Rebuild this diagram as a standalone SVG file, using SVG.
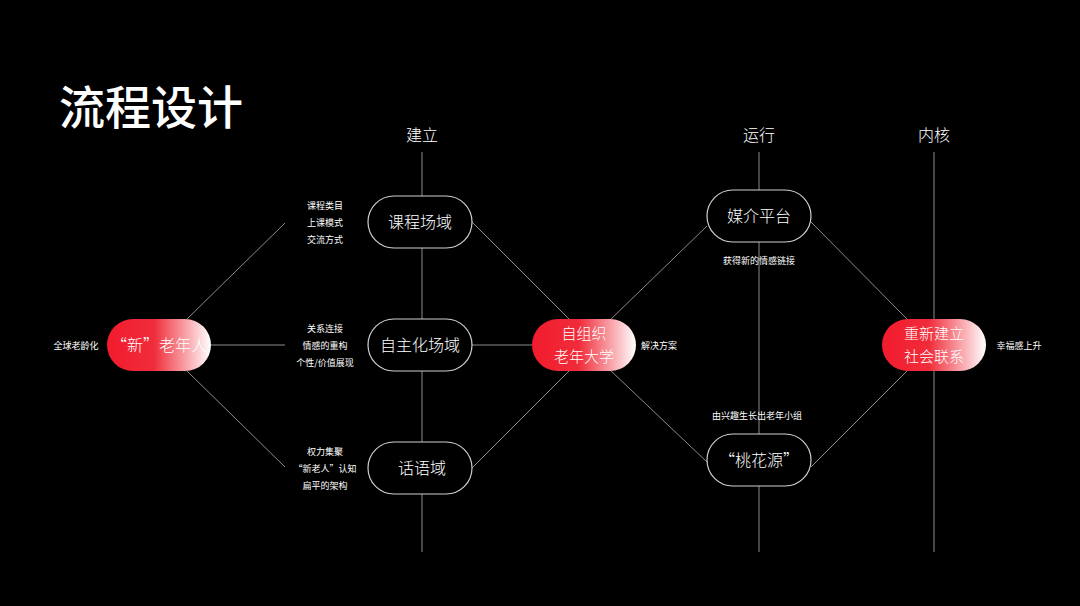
<svg xmlns="http://www.w3.org/2000/svg" width="1080" height="606" viewBox="0 0 1080 606">
<defs>
<linearGradient id="rg" x1="0" x2="1" y1="0" y2="0">
<stop offset="0" stop-color="#f21b2d"/><stop offset="0.45" stop-color="#f02c3a"/><stop offset="1" stop-color="#ffffff"/>
</linearGradient>
<style>
text{font-family:"Noto Sans CJK SC","Noto Sans",sans-serif;fill:#fff;text-anchor:middle}
.ln{stroke:#8a8a8a;stroke-width:1;fill:none}
.wn{fill:#000;stroke:#cfcfcf;stroke-width:1.2}
.big{font-size:16px;font-weight:300}
.two{font-size:15px;font-weight:300}
.sm{font-size:9px}
.hd{font-size:16px;font-weight:300}
</style>
</defs>
<rect width="1080" height="606" fill="#000"/>
<text x="59" y="124" style="font-size:46px;font-weight:500;text-anchor:start">流程设计</text>
<text class="hd" x="422" y="141">建立</text>
<text class="hd" x="759" y="141">运行</text>
<text class="hd" x="934" y="141">内核</text>
<g id="connectors">
<line class="ln" x1="422" y1="152" x2="422" y2="552"/>
<line class="ln" x1="759" y1="152" x2="759" y2="552"/>
<line class="ln" x1="934" y1="152" x2="934" y2="552"/>
<line class="ln" x1="187" y1="319" x2="285" y2="223"/>
<line class="ln" x1="187" y1="371" x2="285" y2="467"/>
<line class="ln" x1="211" y1="345" x2="285" y2="345"/>
<line class="ln" x1="472" y1="222" x2="570" y2="320"/>
<line class="ln" x1="472" y1="468" x2="570" y2="370"/>
<line class="ln" x1="472" y1="345" x2="532" y2="345"/>
<line class="ln" x1="610" y1="320" x2="707" y2="226"/>
<line class="ln" x1="610" y1="370" x2="707" y2="462"/>
<line class="ln" x1="811" y1="222" x2="908" y2="320"/>
<line class="ln" x1="811" y1="467" x2="908" y2="370"/>
</g>
<g id="n-xin"><rect x="107" y="319" width="104" height="52" rx="26" fill="url(#rg)"/><text class="big" x="159" y="351">“新”老年人</text></g>
<g id="n-kc"><rect class="wn" x="368" y="196" width="104" height="52" rx="26"/><text class="big" x="420" y="228">课程场域</text></g>
<g id="n-zz"><rect class="wn" x="368" y="319" width="104" height="52" rx="26"/><text class="big" x="420" y="351">自主化场域</text></g>
<g id="n-hy"><rect class="wn" x="368" y="442" width="104" height="52" rx="26"/><text class="big" x="422" y="474">话语域</text></g>
<g id="n-dx"><rect x="532" y="319" width="104" height="52" rx="26" fill="url(#rg)"/><text class="two" x="584" y="339">自组织</text><text class="two" x="584" y="362">老年大学</text></g>
<g id="n-mj"><rect class="wn" x="707" y="190" width="104" height="52" rx="26"/><text class="big" x="759" y="222">媒介平台</text></g>
<g id="n-th"><rect class="wn" x="707" y="434" width="104" height="52" rx="26"/><text class="big" x="759" y="466">“桃花源”</text></g>
<g id="n-cx"><rect x="882" y="319" width="104" height="52" rx="26" fill="url(#rg)"/><text class="two" x="934" y="339">重新建立</text><text class="two" x="934" y="362">社会联系</text></g>
<g id="labels">
<text class="sm" x="76" y="349">全球老龄化</text>
<text class="sm" x="325" y="209">课程类目</text>
<text class="sm" x="325" y="226">上课模式</text>
<text class="sm" x="325" y="243">交流方式</text>
<text class="sm" x="325" y="332">关系连接</text>
<text class="sm" x="325" y="349">情感的重构</text>
<text class="sm" x="325" y="366">个性/价值展现</text>
<text class="sm" x="325" y="455">权力集聚</text>
<text class="sm" x="325" y="472">“新老人”认知</text>
<text class="sm" x="325" y="489">扁平的架构</text>
<text class="sm" x="659" y="349">解决方案</text>
<text class="sm" x="759" y="264">获得新的情感链接</text>
<text class="sm" x="757" y="419">由兴趣生长出老年小组</text>
<text class="sm" x="1019" y="349">幸福感上升</text>
</g>
</svg>
